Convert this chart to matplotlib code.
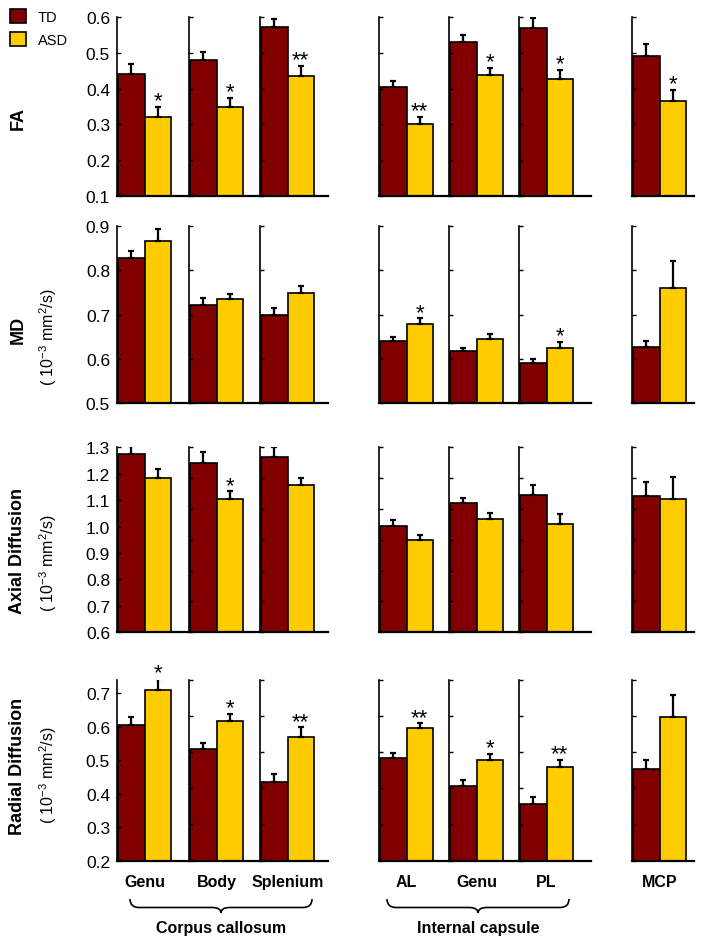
import numpy as np
import matplotlib.pyplot as plt
from matplotlib.patches import Patch, PathPatch
from matplotlib.path import Path

plt.rcParams['font.family'] = ['Liberation Sans', 'DejaVu Sans']
plt.rcParams['mathtext.fontset'] = 'custom'
plt.rcParams['mathtext.rm'] = 'Liberation Sans'

# regions (3 corpus callosum, 3 internal capsule, MCP)
regions = ['Genu', 'Body', 'Splenium', 'AL', 'Genu', 'PL', 'MCP']

# FA
fa_td = [0.441, 0.480, 0.572, 0.404, 0.530, 0.569, 0.491]
fa_td_err = [0.028, 0.022, 0.022, 0.017, 0.020, 0.028, 0.033]
fa_asd = [0.321, 0.349, 0.435, 0.300, 0.438, 0.427, 0.366]
fa_asd_err = [0.028, 0.025, 0.028, 0.020, 0.019, 0.025, 0.030]
fa_sig = ['*', '*', '**', '**', '*', '*', '*']

# MD
md_td = [0.827, 0.722, 0.700, 0.641, 0.617, 0.591, 0.626]
md_td_err = [0.017, 0.015, 0.014, 0.008, 0.008, 0.009, 0.015]
md_asd = [0.865, 0.734, 0.748, 0.679, 0.644, 0.625, 0.760]
md_asd_err = [0.028, 0.013, 0.016, 0.012, 0.011, 0.013, 0.061]
md_sig = ['', '', '', '*', '', '*', '']

# axial diffusion
ad_td = [1.275, 1.241, 1.262, 1.001, 1.090, 1.119, 1.115]
ad_td_err = [0.031, 0.040, 0.038, 0.023, 0.018, 0.037, 0.052]
ad_asd = [1.183, 1.104, 1.157, 0.950, 1.029, 1.011, 1.104]
ad_asd_err = [0.035, 0.029, 0.027, 0.019, 0.023, 0.037, 0.085]
ad_sig = ['', '*', '', '', '', '', '']

# radial diffusion
rd_td = [0.606, 0.533, 0.436, 0.508, 0.424, 0.370, 0.474]
rd_td_err = [0.024, 0.020, 0.024, 0.013, 0.016, 0.019, 0.026]
rd_asd = [0.710, 0.618, 0.570, 0.595, 0.501, 0.480, 0.628]
rd_asd_err = [0.033, 0.020, 0.028, 0.015, 0.017, 0.021, 0.067]
rd_sig = ['*', '*', '**', '**', '*', '**', '']

TD_COLOR = '#800000'
ASD_COLOR = '#FFCC00'

W, H = 704, 945


def px_rect(left, top, width, bottom):
    return [left / W, 1 - bottom / H, width / W, (bottom - top) / H]


col_left = [117, 189, 260, 379, 449, 519, 632]
col_width = [72, 71, 68, 70, 70, 72, 62]
bar_px = 26.3

rows = [
    dict(td=fa_td, td_err=fa_td_err, asd=fa_asd, asd_err=fa_asd_err, sig=fa_sig,
         ylim=(0.1, 0.6), ticks=[0.1, 0.2, 0.3, 0.4, 0.5, 0.6], n_right=6,
         top=18, bottom=197, label='FA', units=False, label_y=118),
    dict(td=md_td, td_err=md_td_err, asd=md_asd, asd_err=md_asd_err, sig=md_sig,
         ylim=(0.5, 0.9), ticks=[0.5, 0.6, 0.7, 0.8, 0.9], n_right=5,
         top=226.7, bottom=404.3, label='MD', units=True, label_y=330, units_y=337),
    dict(td=ad_td, td_err=ad_td_err, asd=ad_asd, asd_err=ad_asd_err, sig=ad_sig,
         ylim=(0.6, 1.3), ticks=[0.6, 0.7, 0.8, 0.9, 1.0, 1.1, 1.2, 1.3], n_right=7,
         top=448.3, bottom=633.3, label='Axial Diffusion', units=True, label_y=551, units_y=563),
    dict(td=rd_td, td_err=rd_td_err, asd=rd_asd, asd_err=rd_asd_err, sig=rd_sig,
         ylim=(0.2, 0.741), ticks=[0.2, 0.3, 0.4, 0.5, 0.6, 0.7], n_right=6,
         top=680.7, bottom=861.5, label='Radial Diffusion', units=True, label_y=766, units_y=775),
]

fig = plt.figure(figsize=(7.04, 9.45), dpi=100)

for r, row in enumerate(rows):
    for c in range(7):
        ax = fig.add_axes(px_rect(col_left[c], row['top'], col_width[c], row['bottom']))
        ax.bar([0, 1], [row['td'][c], row['asd'][c]], width=1,
               color=[TD_COLOR, ASD_COLOR], edgecolor='black', linewidth=1.2,
               yerr=[[0, 0], [row['td_err'][c], row['asd_err'][c]]], capsize=2.5,
               error_kw=dict(elinewidth=1.6, capthick=1.6, ecolor='black'))
        if row['sig'][c]:
            ax.annotate(row['sig'][c], xy=(1, row['asd'][c] + row['asd_err'][c]),
                        xytext=(0, 0.5), textcoords='offset points',
                        ha='center', va='baseline', fontsize=16, annotation_clip=False)
        ax.set_xlim(-0.55, -0.55 + col_width[c] / bar_px)
        ax.set_ylim(row['ylim'])
        ax.spines['top'].set_visible(False)
        ax.spines['right'].set_visible(False)
        ax.spines['left'].set_linewidth(1.2)
        ax.spines['bottom'].set_linewidth(1.6)
        ax.patch.set_visible(False)
        if c == 0:
            ax.set_yticks(row['ticks'])
            ax.set_yticklabels(['%.1f' % t for t in row['ticks']], fontsize=12.5)
        else:
            ax.set_yticks(np.linspace(row['ylim'][0], row['ylim'][1], row['n_right']))
            ax.set_yticklabels([])
        ax.tick_params(axis='y', direction='in', length=3, width=1, pad=5)
        if r == len(rows) - 1:
            ax.set_xticks([0.5])
            ax.set_xticklabels([regions[c]], fontsize=11.5, fontweight='bold')
            ax.tick_params(axis='x', length=0, pad=10)
        else:
            ax.set_xticks([])

    fig.text(18 / W, 1 - row['label_y'] / H, row['label'], rotation=90,
             fontsize=13, fontweight='bold', ha='center', va='center')
    if row['units']:
        fig.text(48 / W, 1 - row['units_y'] / H, '( 10$^{-3}$ mm$^2$/s)', rotation=90,
                 fontsize=11.5, ha='center', va='center')

# overlay in pixel coordinates for braces and group labels
ov = fig.add_axes([0, 0, 1, 1])
ov.set_xlim(0, W)
ov.set_ylim(H, 0)
ov.axis('off')
ov.patch.set_visible(False)


def brace(x0, x1, y0=900, y1=908.5, y2=914, rad=9):
    xm = (x0 + x1) / 2
    verts = [(x0, y0), (x0, y1), (x0 + rad, y1), (xm - rad, y1), (xm, y1), (xm, y2),
             (xm, y1), (xm + rad, y1), (x1 - rad, y1), (x1, y1), (x1, y0)]
    codes = [Path.MOVETO, Path.CURVE3, Path.CURVE3, Path.LINETO, Path.CURVE3, Path.CURVE3,
             Path.CURVE3, Path.CURVE3, Path.LINETO, Path.CURVE3, Path.CURVE3]
    ov.add_patch(PathPatch(Path(verts, codes), fill=False, lw=1.2, edgecolor='black'))


brace(130, 312)
brace(387, 569)
ov.text(221, 928, 'Corpus callosum', fontsize=11.5, fontweight='bold', ha='center', va='center')
ov.text(478, 928, 'Internal capsule', fontsize=11.5, fontweight='bold', ha='center', va='center')

handles = [Patch(facecolor=TD_COLOR, edgecolor='black', linewidth=1.2),
           Patch(facecolor=ASD_COLOR, edgecolor='black', linewidth=1.2)]
fig.legend(handles, ['TD', 'ASD'], loc='upper left', bbox_to_anchor=(0.0, 1.0),
           frameon=False, fontsize=10.5, handlelength=1.1, handleheight=1.1,
           labelspacing=0.55, handletextpad=0.8, borderaxespad=0.3)

fig.savefig('out.png', dpi=100)
